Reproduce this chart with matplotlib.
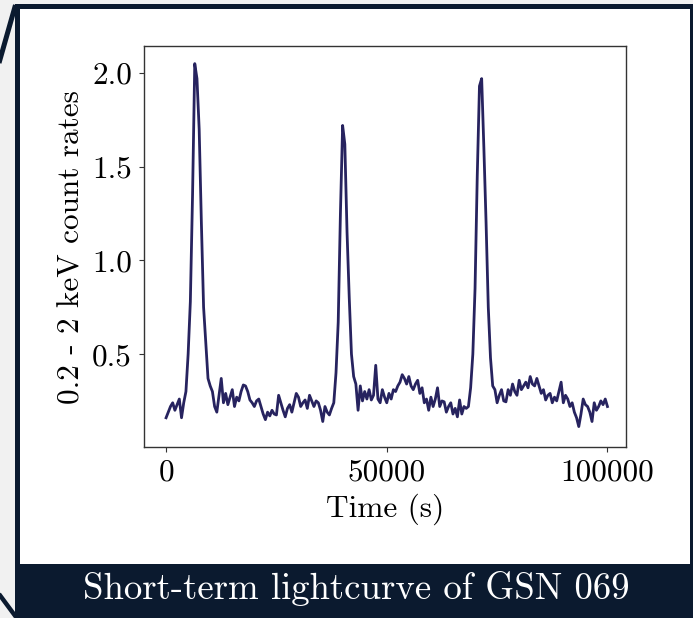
import numpy as np
import matplotlib
matplotlib.use("Agg")
import matplotlib.pyplot as plt
from matplotlib.patches import Rectangle
from matplotlib.lines import Line2D

# ---------------- data ----------------
time_step = 500  # s
count_rates = [
    # 0 - 9500
    0.16, 0.19, 0.22, 0.24, 0.20, 0.23, 0.26, 0.16, 0.24, 0.30,
    0.50, 0.78, 1.35, 2.05, 1.97, 1.70, 1.20, 0.75, 0.56, 0.37,
    # 10000 - 19500
    0.33, 0.30, 0.22, 0.19, 0.28, 0.37, 0.24, 0.29, 0.23, 0.27,
    0.31, 0.22, 0.27, 0.25, 0.30, 0.335, 0.33, 0.30, 0.255, 0.24,
    # 20000 - 29500
    0.22, 0.25, 0.26, 0.22, 0.18, 0.15, 0.19, 0.17, 0.20, 0.18,
    0.175, 0.28, 0.24, 0.20, 0.165, 0.21, 0.23, 0.19, 0.24, 0.29,
    # 30000 - 39500
    0.27, 0.22, 0.24, 0.255, 0.21, 0.28, 0.25, 0.22, 0.25, 0.24,
    0.20, 0.14, 0.22, 0.19, 0.175, 0.21, 0.24, 0.40, 0.67, 1.25,
    # 40000 - 49500
    1.72, 1.62, 1.15, 0.80, 0.50, 0.38, 0.34, 0.20, 0.33, 0.25,
    0.30, 0.26, 0.31, 0.255, 0.28, 0.44, 0.26, 0.24, 0.31, 0.27,
    # 50000 - 59500
    0.24, 0.29, 0.26, 0.31, 0.30, 0.33, 0.35, 0.39, 0.37, 0.34,
    0.38, 0.33, 0.31, 0.34, 0.36, 0.29, 0.32, 0.24, 0.26, 0.20,
    # 60000 - 69500
    0.27, 0.22, 0.26, 0.32, 0.22, 0.25, 0.245, 0.19, 0.22, 0.24,
    0.18, 0.21, 0.165, 0.255, 0.18, 0.22, 0.21, 0.22, 0.32, 0.50,
    # 70000 - 79500
    0.85, 1.45, 1.93, 1.97, 1.60, 1.20, 0.75, 0.48, 0.33, 0.31,
    0.24, 0.28, 0.31, 0.25, 0.245, 0.31, 0.28, 0.34, 0.30, 0.28,
    # 80000 - 89500
    0.36, 0.31, 0.33, 0.35, 0.32, 0.38, 0.34, 0.33, 0.37, 0.33,
    0.29, 0.31, 0.255, 0.28, 0.29, 0.24, 0.27, 0.25, 0.30, 0.35,
    # 90000 - 100000
    0.24, 0.28, 0.26, 0.22, 0.24, 0.19, 0.16, 0.113, 0.18, 0.26,
    0.23, 0.22, 0.19, 0.14, 0.24, 0.20, 0.22, 0.25, 0.23, 0.26,
    0.22,
]
times = np.arange(len(count_rates)) * time_step

x_ticks = [0, 50000, 100000]
y_ticks = [0.5, 1.0, 1.5, 2.0]
x_label = "Time (s)"
y_label = "0.2 - 2 keV count rates"
caption = "Short-term lightcurve of GSN 069"

# ---------------- style ----------------
plt.rcParams["font.family"] = ["cmr10", "DejaVu Serif"]
plt.rcParams["axes.formatter.use_mathtext"] = True
plt.rcParams["mathtext.fontset"] = "cm"

W, H = 693, 618
NAVY = "#0b1a2f"
BG = "#f1f1f1"
LINE = "#27235f"
FS = 22.5

fig = plt.figure(figsize=(W / 100, H / 100), dpi=100, facecolor=BG)


def fx(px):
    return px / W


def fy(py):
    return 1 - py / H


def rect_px(x0, y0, x1, y1, color, z):
    r = Rectangle((fx(x0), fy(y1)), fx(x1) - fx(x0), fy(y0) - fy(y1),
                  transform=fig.transFigure, facecolor=color,
                  edgecolor="none", zorder=z)
    fig.add_artist(r)


# frame
rect_px(15, 4, 693, 618, NAVY, -10)
rect_px(20, 9, 690, 564, "white", -9)
fig.add_artist(Line2D([fx(15.5), fx(-1)], [fy(5), fy(63)], transform=fig.transFigure,
                      color=NAVY, lw=3.6, solid_capstyle="butt", zorder=-8))
fig.add_artist(Line2D([fx(-1), fx(16)], [fy(594), fy(617)], transform=fig.transFigure,
                      color=NAVY, lw=3.2, solid_capstyle="butt", zorder=-8))

fig.text(fx(356), fy(589), caption, color="white", fontsize=26.5,
         ha="center", va="center")

# axes
ax = fig.add_axes([fx(144), fy(447), fx(626) - fx(144), fy(46) - fy(447)])
ax.plot(times, count_rates, color=LINE, lw=2.0)
ax.set_xticks(x_ticks)
ax.set_yticks(y_ticks)
ax.set_xticklabels([str(v) for v in x_ticks])
ax.set_yticklabels([f"{v:.1f}" for v in y_ticks])
ax.set_xlim(-5000, 104200)
ax.set_ylim(0.004, 2.144)
ax.tick_params(labelsize=FS, length=3.6, width=0.8, pad=5, color="#333333")
for s in ax.spines.values():
    s.set_color("#333333")
    s.set_linewidth(1.0)
ax.set_xlabel(x_label, fontsize=FS, labelpad=5)
ax.set_ylabel(y_label, fontsize=FS, labelpad=5)

fig.savefig("out.png", dpi=100, facecolor=BG)
